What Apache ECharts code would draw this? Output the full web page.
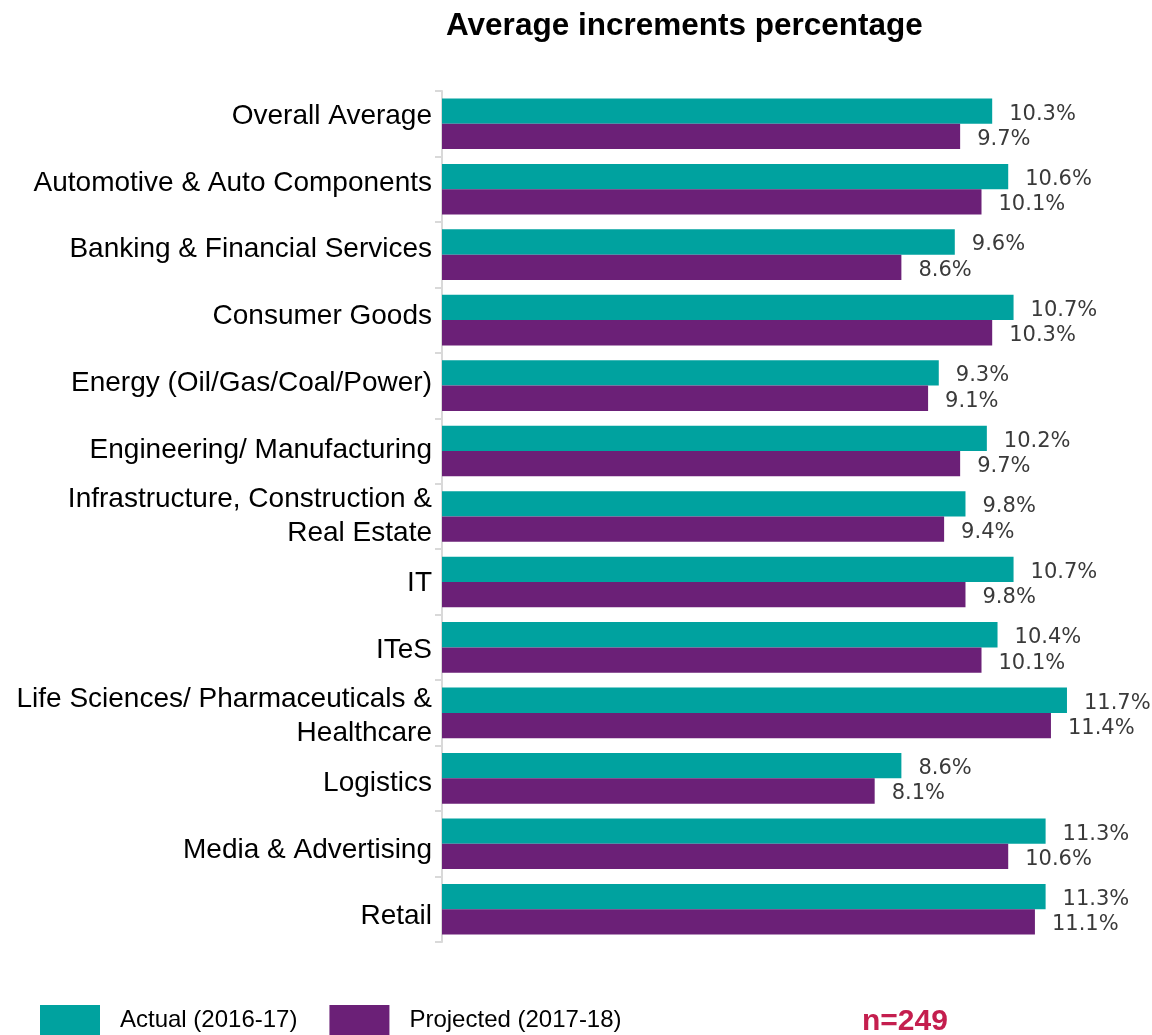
<!DOCTYPE html>
<html>
<head>
<meta charset="utf-8">
<script src="https://cdn.jsdelivr.net/npm/echarts@6/dist/echarts.min.js"></script>
<style>html,body{margin:0;padding:0;background:#fff;}#chart{width:1152px;height:1035px;}</style>
</head>
<body>
<div id="chart"></div>
<script>
const categories = [
  'Overall Average',
  'Automotive & Auto Components',
  'Banking & Financial Services',
  'Consumer Goods',
  'Energy (Oil/Gas/Coal/Power)',
  'Engineering/ Manufacturing',
  'Infrastructure, Construction &\nReal Estate',
  'IT',
  'ITeS',
  'Life Sciences/ Pharmaceuticals &\nHealthcare',
  'Logistics',
  'Media & Advertising',
  'Retail'
];
const actual = [10.3, 10.6, 9.6, 10.7, 9.3, 10.2, 9.8, 10.7, 10.4, 11.7, 8.6, 11.3, 11.3];
const projected = [9.7, 10.1, 8.6, 10.3, 9.1, 9.7, 9.4, 9.8, 10.1, 11.4, 8.1, 10.6, 11.1];
const seriesNames = ['Actual (2016-17)', 'Projected (2017-18)'];
const titleText = 'Average increments percentage';
const sampleText = 'n=249';

const chart = echarts.init(document.getElementById('chart'));
const labelCfg = {
  show: true,
  position: 'right',
  distance: 17,
  offset: [0, 3],
  fontFamily: '"DejaVu Sans", sans-serif',
  fontSize: 21,
  color: '#3a3a3a',
  formatter: p => p.value.toFixed(1) + '%'
};
chart.setOption({
  animation: false,
  backgroundColor: '#ffffff',
  title: [
    {
      text: titleText,
      left: 446, top: 10, padding: 0,
      textStyle: { fontFamily: '"Liberation Sans", Arial, sans-serif', fontWeight: 'bold', fontSize: 31.5, color: '#000' }
    },
    {
      text: sampleText,
      left: 862, top: 1007, padding: 0,
      textStyle: { fontFamily: '"Liberation Sans", Arial, sans-serif', fontWeight: 'bold', fontSize: 30, color: '#C41E4E' }
    }
  ],
  legend: {
    data: seriesNames,
    left: 40, top: 1005, padding: 0,
    itemWidth: 60, itemHeight: 30, itemGap: 32,
    icon: 'rect',
    textStyle: { fontFamily: '"Liberation Sans", Arial, sans-serif', fontSize: 24, color: '#000', padding: [4, 0, 0, 15] }
  },
  grid: [
    { left: 442, right: 69, top: 91, bottom: 93, containLabel: false },
    { left: 442, right: 69, top: 83, bottom: 85, containLabel: false }
  ],
  xAxis: [
    { type: 'value', min: 0, max: 12, show: false, gridIndex: 0 },
    { type: 'value', min: 0, max: 12, show: false, gridIndex: 1 }
  ],
  yAxis: [
    {
      type: 'category',
      gridIndex: 0,
      data: categories,
      inverse: true,
      axisLine: { show: true, lineStyle: { color: '#d9d9d9', width: 2 } },
      axisTick: { show: true, length: 7, lineStyle: { color: '#d9d9d9', width: 2 } },
      axisLabel: { show: false },
      splitLine: { show: false }
    },
    {
      type: 'category',
      gridIndex: 1,
      data: categories,
      inverse: true,
      axisLine: { show: false },
      axisTick: { show: false },
      axisLabel: {
        margin: 10,
        fontFamily: '"Liberation Sans", Arial, sans-serif',
        fontSize: 28, color: '#000', lineHeight: 34
      },
      splitLine: { show: false }
    }
  ],
  series: [
    {
      name: seriesNames[0], type: 'bar', data: actual,
      xAxisIndex: 0, yAxisIndex: 0,
      barGap: '0%', barCategoryGap: '22.7%',
      itemStyle: { color: '#00A29F' },
      label: labelCfg
    },
    {
      name: seriesNames[1], type: 'bar', data: projected,
      xAxisIndex: 0, yAxisIndex: 0,
      barGap: '0%', barCategoryGap: '22.7%',
      itemStyle: { color: '#6B2077' },
      label: labelCfg
    }
  ]
});
</script>
</body>
</html>
